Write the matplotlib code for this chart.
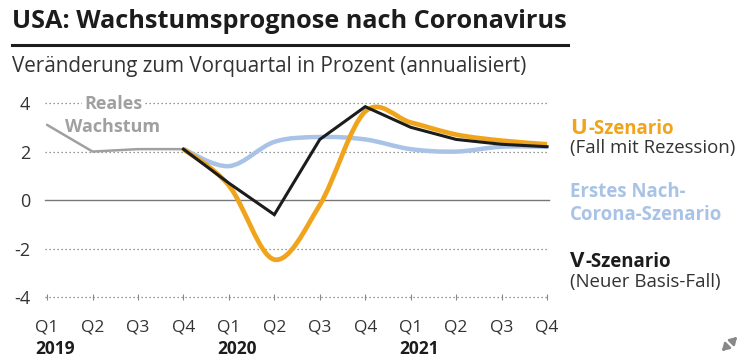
import matplotlib
matplotlib.use("Agg")
import matplotlib.pyplot as plt
import numpy as np
from matplotlib.path import Path
from matplotlib.patches import PathPatch, FancyArrowPatch

plt.rcParams["font.family"] = ["Open Sans", "DejaVu Sans"]

quarters = ["Q1", "Q2", "Q3", "Q4"] * 3
years = ["2019", "2020", "2021"]

real_x = [0, 1, 2, 3]
real_growth = [3.1, 2.0, 2.1, 2.1]

fc_x = [3, 4, 5, 6, 7, 8, 9, 10, 11]
first_scenario = [2.1, 1.4, 2.4, 2.6, 2.5, 2.1, 2.0, 2.2, 2.2]
v_scenario = [2.1, 0.7, -0.6, 2.5, 3.85, 3.0, 2.5, 2.3, 2.2]
u_scenario = [2.1, 0.6, -2.45, -0.2, 3.65, 3.2, 2.7, 2.45, 2.3]

ORANGE = "#F0A41C"
LIGHTBLUE = "#A8C3E6"
BLACK = "#1c1c1c"
GREY = "#a0a0a0"


def smooth_path(xs, ys, tension=1 / 6):
    # Catmull-Rom converted to cubic bezier segments
    pts = np.column_stack([xs, ys]).astype(float)
    verts = [pts[0]]
    codes = [Path.MOVETO]
    n = len(pts)
    for i in range(n - 1):
        p0 = pts[i - 1] if i > 0 else pts[i]
        p1, p2 = pts[i], pts[i + 1]
        p3 = pts[i + 2] if i + 2 < n else pts[i + 1]
        c1 = p1 + (p2 - p0) * tension
        c2 = p2 - (p3 - p1) * tension
        verts += [c1, c2, p2]
        codes += [Path.CURVE4] * 3
    return Path(verts, codes)


fig = plt.figure(figsize=(7.41, 3.57), dpi=100)
ax = fig.add_axes([0.0574, 0.154, 0.687, 0.571])
ax.set_xlim(-0.1, 11.1)
ax.set_ylim(-4.2, 4.2)

for y in [4, 2, -2, -4]:
    ax.plot([-0.05, 11.05], [y, y], color="#777777", lw=0.9, ls=(0, (1, 2.2)), zorder=1)
ax.plot([-0.05, 11.05], [0, 0], color="#777777", lw=1.0, zorder=1)

ax.plot(real_x, real_growth, color=GREY, lw=1.8, zorder=3, solid_capstyle="round")
ax.add_patch(PathPatch(smooth_path(fc_x, first_scenario), fill=False,
                       edgecolor=LIGHTBLUE, lw=3.2, zorder=2, capstyle="butt"))
ax.add_patch(PathPatch(smooth_path(fc_x, u_scenario), fill=False,
                       edgecolor=ORANGE, lw=3.4, zorder=4, capstyle="butt"))
ax.plot(fc_x, v_scenario, color=BLACK, lw=2.2, zorder=5, solid_joinstyle="miter")

for s in ax.spines.values():
    s.set_visible(False)
ax.set_yticks([4, 2, 0, -2, -4])
ax.set_yticklabels(["4", "2", "0", "-2", "-4"])
ax.tick_params(axis="y", length=0, pad=9, labelsize=13, labelcolor="#333333")
ax.set_xticks(range(12))
ax.set_xticklabels([])
ax.tick_params(axis="x", length=4, direction="inout", color="#888888", width=0.8)
ax.xaxis.set_ticks_position("bottom")
ax.spines["bottom"].set_position(("data", -4))

for i, q in enumerate(quarters):
    ax.text(i, -5.25, q, ha="center", va="center", fontsize=12.5, color="#333333")
for j, yr in enumerate(years):
    ax.text(j * 4 - 0.25, -6.15, yr, ha="left", va="center", fontsize=12.5,
            fontweight="bold", color=BLACK)

ax.text(1.45, 3.98, "Reales", ha="center", va="center", fontsize=13,
        fontweight="bold", color=GREY, zorder=6,
        bbox=dict(facecolor="white", edgecolor="none", pad=1))
ax.text(1.45, 3.02, "Wachstum", ha="center", va="center", fontsize=13,
        fontweight="bold", color=GREY, zorder=6)

# right hand labels
renderer = fig.canvas.get_renderer()
fx = 0.769


def big_letter_label(letter, rest, y, color):
    t = fig.text(fx, y, letter, fontsize=16, fontweight="bold", color=color, va="baseline")
    bb = t.get_window_extent(renderer).transformed(fig.transFigure.inverted())
    fig.text(bb.x1 + 0.002, y, rest, fontsize=13.4, fontweight="bold", color=color,
             va="baseline")


big_letter_label("U", "-Szenario", 0.624, ORANGE)
fig.text(fx, 0.585, "(Fall mit Rezession)", fontsize=13.4, color="#333333", va="center")
fig.text(fx, 0.462, "Erstes Nach-", fontsize=13.4, fontweight="bold", color=LIGHTBLUE, va="center")
fig.text(fx, 0.399, "Corona-Szenario", fontsize=13.4, fontweight="bold", color=LIGHTBLUE, va="center")
big_letter_label("V", "-Szenario", 0.252, BLACK)
fig.text(fx, 0.211, "(Neuer Basis-Fall)", fontsize=13.4, color="#333333", va="center")

# header
fig.text(0.016, 0.94, "USA: Wachstumsprognose nach Coronavirus", fontsize=18.2,
         fontweight="bold", color=BLACK, va="center")
fig.add_artist(plt.Line2D([0.016, 0.766], [0.874, 0.874], color=BLACK, lw=2.2))
fig.text(0.016, 0.815, "Veränderung zum Vorquartal in Prozent (annualisiert)",
         fontsize=14.9, color="#333333", va="center")

# expand icon (no font has the glyph)
for start, end in [((732 / 741, 1 - 342 / 357), (739 / 741, 1 - 335 / 357)),
                   ((727 / 741, 1 - 346 / 357), (720 / 741, 1 - 353 / 357))]:
    fig.add_artist(FancyArrowPatch(start, end, transform=fig.transFigure,
                                   arrowstyle="-|>,head_length=4,head_width=2.5",
                                   color="#888888", lw=1.8, mutation_scale=1))

fig.savefig("out.png", dpi=100)
